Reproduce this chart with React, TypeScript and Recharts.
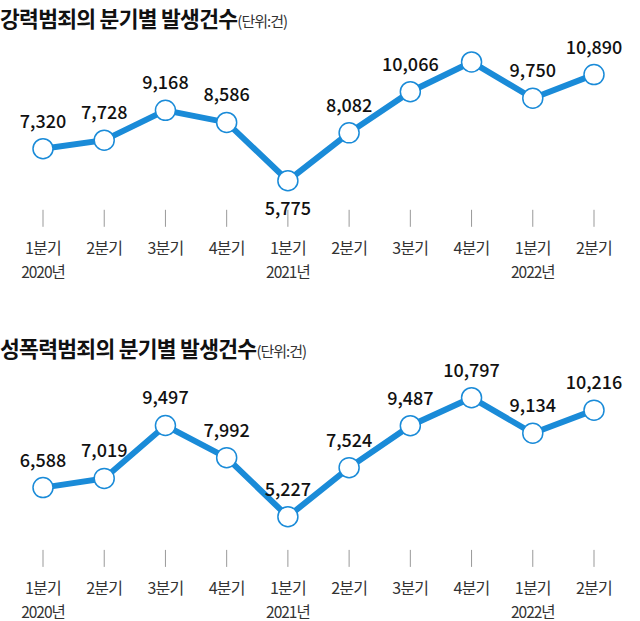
import { LineChart, Line, XAxis, YAxis } from "recharts";

const QUARTERS = ["1분기", "2분기", "3분기", "4분기", "1분기", "2분기", "3분기", "4분기", "1분기", "2분기"];
const YEARS = ["2020년", "", "", "", "2021년", "", "", "", "2022년", ""];
const VIOLENT = [7320, 7728, 9168, 8586, 5775, 8082, 10066, 11500, 9750, 10890];
const SEXUAL = [6588, 7019, 9497, 7992, 5227, 7524, 9487, 10797, 9134, 10216];

const BLUE = "#1a8bd8";
const FONT = "'Noto Sans CJK KR', 'Noto Sans', sans-serif";

type Cfg = {
  title: string;
  values: number[];
  domain: [number, number];
  top: number;
  height: number;
  marginTop: number;
  axisHeight: number;
  tickOffset: number;
  hidden: number[];
  below: number[];
};

const charts: Cfg[] = [
  {
    title: "강력범죄의 분기별 발생건수",
    values: VIOLENT,
    domain: [5000, 12000],
    top: 0,
    height: 300,
    marginTop: 51.6,
    axisHeight: 103.2,
    tickOffset: 13,
    hidden: [7],
    below: [4],
  },
  {
    title: "성폭력범죄의 분기별 발생건수",
    values: SEXUAL,
    domain: [4000, 11500],
    top: 330,
    height: 291,
    marginTop: 52.7,
    axisHeight: 78.1,
    tickOffset: 7,
    hidden: [],
    below: [],
  },
];

function QuarterTick(props: any) {
  const { x, y, payload, offset } = props;
  const i = payload.index;
  const t = y + offset;
  return (
    <g>
      <line x1={x} x2={x} y1={t} y2={t + 17} stroke="#999" strokeWidth={1} />
      <text x={x} y={t + 37} textAnchor="middle" dominantBaseline="central" fontSize={16} fill="#333" fontFamily={FONT} letterSpacing={-0.8}>
        {QUARTERS[i]}
      </text>
      {YEARS[i] && (
        <text x={x} y={t + 61} textAnchor="middle" dominantBaseline="central" fontSize={15.5} fill="#333" fontFamily={FONT} letterSpacing={-1}>
          {YEARS[i]}
        </text>
      )}
    </g>
  );
}

function ValueLabel(props: any) {
  const { x, y, index, value, hidden, below } = props;
  if (hidden.includes(index)) return null;
  const dy = below.includes(index) ? 26 : -29;
  return (
    <text x={x} y={y + dy} textAnchor="middle" dominantBaseline="central" fontSize={18} fontWeight={500} fill="#111" fontFamily={FONT}>
      {value.toLocaleString("en-US")}
    </text>
  );
}

function Panel({ c }: { c: Cfg }) {
  const data = c.values.map((v, i) => ({ key: `q${i}`, value: v }));
  return (
    <div style={{ position: "absolute", left: 0, top: c.top, width: 640, height: c.height }}>
      <div style={{ position: "absolute", left: 0, top: 5, fontFamily: FONT, whiteSpace: "nowrap", lineHeight: "26px" }}>
        <span style={{ fontSize: 21.5, fontWeight: 700, color: "#111", letterSpacing: -0.7 }}>{c.title}</span>
        <span style={{ fontSize: 15, color: "#333", letterSpacing: -1 }}>(단위:건)</span>
      </div>
      <LineChart width={640} height={c.height} data={data} margin={{ top: c.marginTop, right: 46, left: 43, bottom: 0 }}>
        <XAxis
          dataKey="key"
          height={c.axisHeight}
          axisLine={false}
          tickLine={false}
          tickSize={0}
          tickMargin={0}
          interval={0}
          tick={(p: any) => <QuarterTick {...p} offset={c.tickOffset} />}
        />
        <YAxis hide domain={c.domain} />
        <Line
          dataKey="value"
          stroke={BLUE}
          strokeWidth={6}
          isAnimationActive={false}
          dot={{ r: 10, fill: "#fff", stroke: BLUE, strokeWidth: 1.5 }}
          activeDot={false}
          label={(p: any) => <ValueLabel {...p} hidden={c.hidden} below={c.below} />}
        />
      </LineChart>
    </div>
  );
}

export default function App() {
  return (
    <div style={{ position: "absolute", left: 0, top: 0, width: 640, height: 621, background: "#fff" }}>
      {charts.map((c) => (
        <Panel key={c.title} c={c} />
      ))}
    </div>
  );
}
